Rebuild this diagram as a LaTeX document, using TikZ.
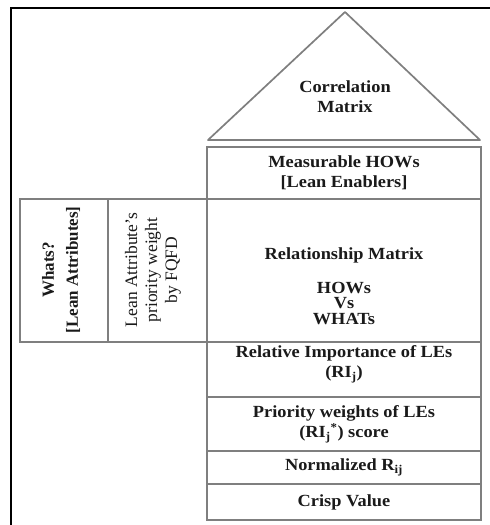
\documentclass[tikz,border=0pt]{standalone}
\usepackage{fontspec}
\setmainfont{Liberation Serif}
\newfontfamily\widefont[FakeStretch=1.08]{Liberation Serif}
\definecolor{linegray}{HTML}{7F7F7F}
\definecolor{txt}{HTML}{1A1A1A}
\begin{document}
\begin{tikzpicture}[x=1pt,y=-1pt,
  box/.style={draw=linegray,line width=1.7pt,rectangle,inner sep=0pt,anchor=center},
  lbl/.style={text=txt,font=\widefont\fontsize{17}{20}\selectfont\bfseries,align=center,inner sep=0pt},
  rlbl/.style={text=txt,font=\fontsize{17.5}{20}\selectfont,align=center,inner sep=0pt},
  frame/.style={draw=black,line width=2.4pt}]
\useasboundingbox (0,0) rectangle (490,525);
% outer frame
\coordinate (fb) at (11,525);
\coordinate (fc) at (11,8);
\coordinate (fr) at (490,8);
\draw[frame] (fb) -- (fc) -- (fr);
% roof
\coordinate (apex) at (345,12);
\coordinate (bl) at (208,140);
\coordinate (br) at (480,140);
\draw[draw=linegray,line width=1.7pt,line join=round] (bl) -- (apex) -- (br) -- cycle;
\node[lbl] (corr) at (345,97) {Correlation\\Matrix};
% column boxes
\node[box,minimum width=274pt,minimum height=52pt] (mh) at (344,173) {};
\node[box,minimum width=274pt,minimum height=143pt] (rm) at (344,270.5) {};
\node[box,minimum width=274pt,minimum height=55pt] (ri) at (344,369.5) {};
\node[box,minimum width=274pt,minimum height=54pt] (pw) at (344,424) {};
\node[box,minimum width=274pt,minimum height=33pt] (nr) at (344,467.5) {};
\node[box,minimum width=274pt,minimum height=36pt] (cv) at (344,502) {};
% left boxes
\node[box,minimum width=88pt,minimum height=143pt] (wh) at (64,270.5) {};
\node[box,minimum width=99pt,minimum height=143pt] (la) at (157.5,270.5) {};
% texts
\node[lbl] (mht) at (mh.center) {Measurable HOWs\\{[}Lean Enablers{]}};
\node[lbl] (rmt) at (344,255) {Relationship Matrix};
\node[lbl,font=\widefont\fontsize{17}{15.5}\selectfont\bfseries] (hvw) at (344,303) {HOWs\\Vs\\WHATs};
\node[lbl] (rit) at (344,364) {Relative Importance of LEs\\(RI\textsubscript{j})};
\node[lbl] (pwt) at (344,424.5) {Priority weights of LEs\\(RI\textsubscript{j}\textsuperscript{*}) score};
\node[lbl] (nrt) at (nr.center) {Normalized R\textsubscript{ij}};
\node[lbl] (cvt) at (cv.center) {Crisp Value};
\node[lbl,rotate=90,font=\fontsize{17}{24}\selectfont\bfseries] (wht) at (61,270) {Whats?\\{[}Lean Attributes{]}};
\node[rlbl,rotate=90] (lat) at (153,270) {Lean Attribute's\\priority weight\\by FQFD};
\end{tikzpicture}
\end{document}
